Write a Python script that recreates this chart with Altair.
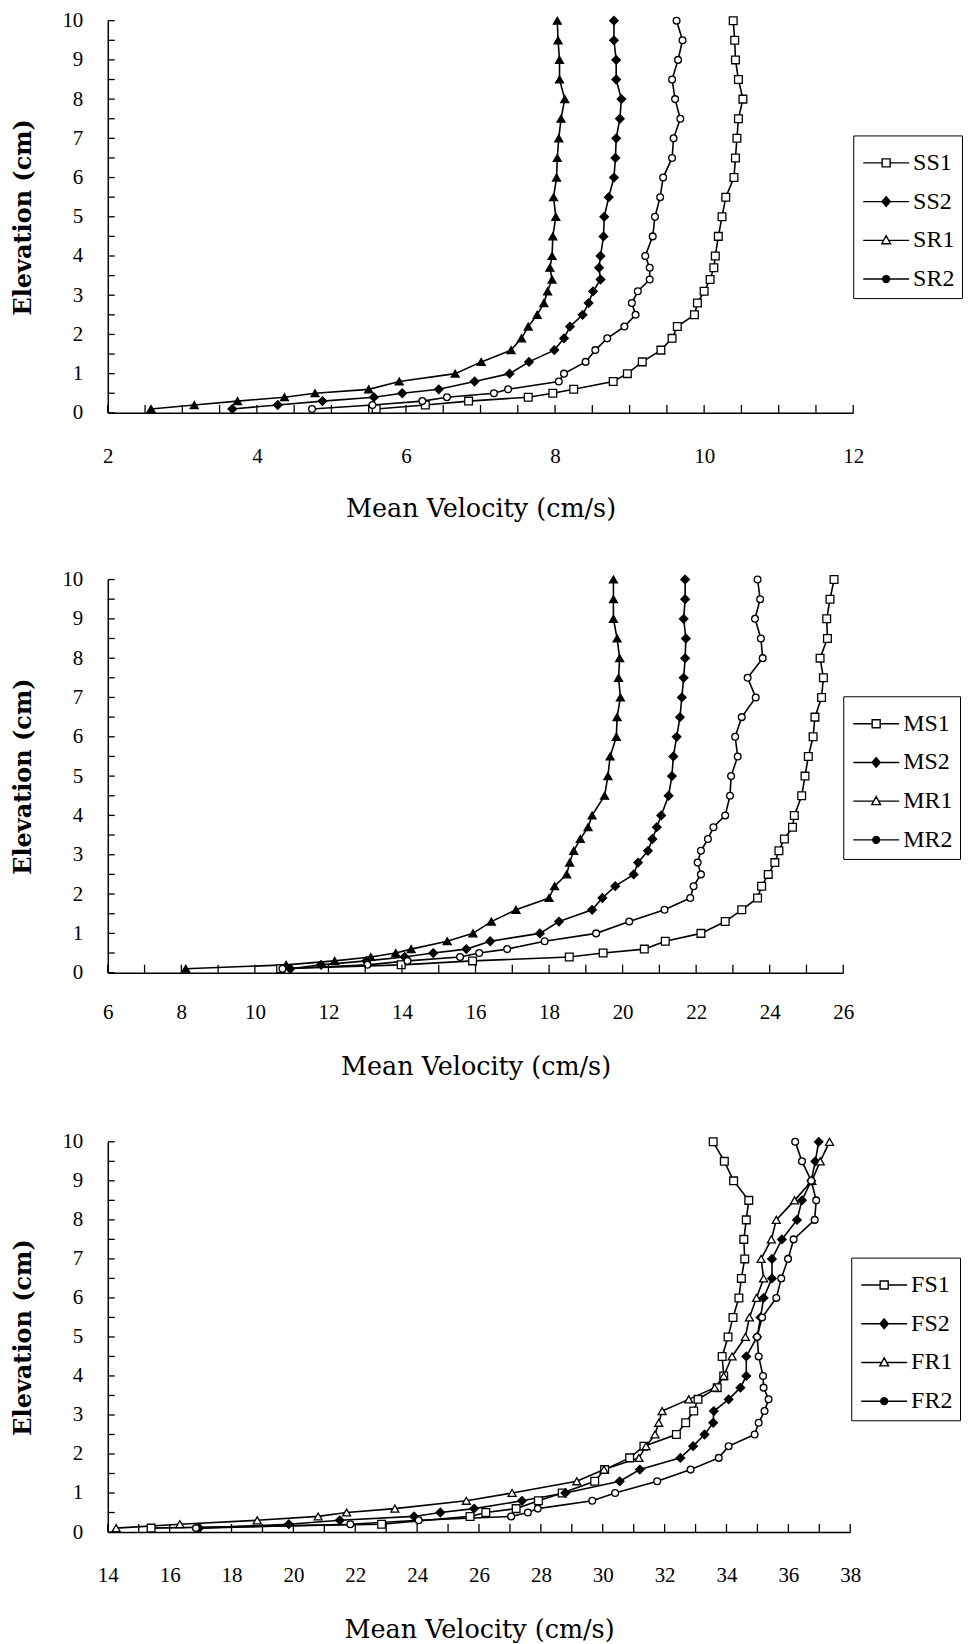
import altair as alt
import pandas as pd

# Elevation grid (cm) shared by all profiles
ELEV = [0.1, 0.2, 0.3, 0.4, 0.5, 0.6, 0.8, 1.0, 1.3, 1.6, 1.9, 2.2, 2.5, 2.8, 3.1,
        3.4, 3.7, 4.0, 4.5, 5.0, 5.5, 6.0, 6.5, 7.0, 7.5, 8.0, 8.5, 9.0, 9.5, 10.0]

# Panel 1 (slow flow)
SS1 = [5.6, 6.26, 6.84, 7.64, 7.97, 8.25, 8.78, 8.97, 9.17, 9.42, 9.57, 9.64, 9.87, 9.91, 10.0,
       10.08, 10.13, 10.15, 10.19, 10.24, 10.29, 10.40, 10.42, 10.44, 10.46, 10.52, 10.46, 10.42, 10.41, 10.39]
SS2 = [3.67, 4.28, 4.88, 5.57, 5.95, 6.44, 6.92, 7.39, 7.65, 7.99, 8.12, 8.20, 8.37, 8.45, 8.51,
       8.61, 8.59, 8.61, 8.65, 8.66, 8.72, 8.79, 8.81, 8.82, 8.87, 8.89, 8.82, 8.82, 8.79, 8.79]
SR1 = [2.58, 3.16, 3.74, 4.37, 4.78, 5.50, 5.91, 6.66, 7.01, 7.41, 7.55, 7.64, 7.76, 7.85, 7.90,
       7.96, 7.93, 7.96, 7.97, 8.01, 7.98, 8.02, 8.03, 8.05, 8.08, 8.13, 8.06, 8.06, 8.04, 8.03]
SR2 = [4.74, 5.55, 6.22, 6.55, 7.18, 7.37, 8.05, 8.12, 8.41, 8.54, 8.70, 8.93, 9.08, 9.03, 9.11,
       9.27, 9.27, 9.21, 9.31, 9.34, 9.41, 9.45, 9.57, 9.59, 9.68, 9.61, 9.57, 9.65, 9.71, 9.63]

# Panel 2 (medium flow)
MS1 = [10.7, 13.98, 15.92, 18.55, 19.47, 20.59, 21.16, 22.13, 22.79, 23.24, 23.67, 23.78, 23.96, 24.14, 24.25,
       24.40, 24.62, 24.67, 24.87, 24.96, 25.05, 25.18, 25.23, 25.41, 25.46, 25.37, 25.57, 25.55, 25.64, 25.75]
MS2 = [10.96, 11.8, 13.03, 14.07, 14.85, 15.75, 16.40, 17.75, 18.27, 19.17, 19.45, 19.80, 20.30, 20.42, 20.69,
       20.81, 20.93, 21.05, 21.25, 21.34, 21.38, 21.47, 21.56, 21.61, 21.66, 21.70, 21.72, 21.66, 21.70, 21.70]
MR1 = [8.12, 10.85, 12.17, 13.15, 13.83, 14.25, 15.23, 15.93, 16.43, 17.10, 18.0, 18.15, 18.48, 18.56, 18.67,
       18.85, 19.06, 19.17, 19.51, 19.60, 19.66, 19.83, 19.85, 19.94, 19.89, 19.92, 19.85, 19.75, 19.75, 19.75]
MR2 = [10.75, 13.06, 14.15, 15.58, 16.10, 16.86, 17.88, 19.28, 20.18, 21.14, 21.84, 21.93, 22.13, 22.04, 22.13,
       22.32, 22.47, 22.79, 22.92, 22.95, 23.13, 23.06, 23.24, 23.62, 23.40, 23.81, 23.76, 23.60, 23.74, 23.67]

# Panel 3 (fast flow)
FS1 = [15.4, 22.85, None, 25.71, 26.22, 27.20, 27.92, 28.69, 29.74, 30.06, 30.87, 31.33, 32.38, 32.68, 32.94,
       33.08, 33.70, 33.91, 33.86, 34.05, 34.21, 34.40, 34.48, 34.59, 34.56, 34.64, 34.72, 34.23, 33.93, 33.57]
FS2 = [16.95, 19.85, 21.5, 23.9, 24.75, 25.84, 27.39, 28.79, 30.55, 31.2, 32.51, 32.92, 33.29, 33.57, 33.59,
       34.07, 34.45, 34.64, 34.64, 34.99, 35.10, 35.20, 35.47, 35.47, 35.79, 36.28, 36.44, 36.74, 36.87, 36.98]
FR1 = [14.27, 16.33, 18.83, 20.8, 21.72, 23.28, 25.59, 27.07, 29.16, 30.04, 31.17, 31.40, 31.69, 31.81, 31.92,
       32.78, 33.62, 33.91, 34.18, 34.61, 34.74, 34.97, 35.20, 35.12, 35.45, 35.61, 36.20, 36.76, 37.03, 37.33]
FR2 = [16.85, 21.84, 24.05, 27.04, 27.58, 27.9, 29.66, 30.40, 31.76, 32.84, 33.75, 34.07, 34.91, 35.04, 35.23,
       35.36, 35.20, 35.18, 35.04, 34.99, 35.15, 35.61, 35.77, 35.99, 36.17, 36.85, 36.90, 36.74, 36.44, 36.22]

Y_LABELS = list(range(0, 11))
Y_TICKS = [i * 0.5 for i in range(0, 21)]

SERIF = "Liberation Serif"
TITLE_FONT = "DejaVu Serif"

# marker styles on the plot (order: S1, S2, R1, R2)
MARK_SHAPES = ["square", "diamond", "triangle-up", "circle"]
MARK_SIZES = [60, 72, 64, 46]
# legend glyphs: line with a marker in the middle
LEG_PATHS = [
    "M-2,0H-0.35M0.35,0H2M-0.35,-0.35H0.35V0.35H-0.35Z",
    "M-2,0H2M0,-0.42L0.36,0L0,0.42L-0.36,0Z",
    "M-2,0H-0.22M0.22,0H2M0,-0.4L0.38,0.3L-0.38,0.3Z",
    "M-2,0H2M0.3,0A0.3,0.3,0,1,1,-0.3,0A0.3,0.3,0,1,1,0.3,0Z",
]
LEG_FILLS = ["white", "black", "white", "black"]


def panel(names, series, xdom, xlabels, xticks, width, height, mark_fills,
          legend_x, legend_y, label_pad, title_pad):
    rows = []
    for name, vals in zip(names, series):
        for i, (e, v) in enumerate(zip(ELEV, vals)):
            if v is None:
                continue
            rows.append({"series": name, "v": v, "elev": e, "idx": i})
    df = pd.DataFrame(rows)

    xscale = alt.Scale(domain=xdom, nice=False, zero=False)
    yscale = alt.Scale(domain=[0, 10], nice=False, zero=True)

    xaxis = alt.Axis(values=xlabels, title="Mean Velocity (cm/s)", ticks=False, tickSize=0,
                     labelPadding=label_pad, titlePadding=title_pad, labelFlush=False,
                     labelOverlap=False, grid=False, domainColor="black", domainWidth=1.5,
                     labelFont=SERIF, labelFontSize=21, labelColor="black",
                     titleFont=TITLE_FONT, titleFontSize=25.5, titleFontWeight="normal",
                     titleColor="black")
    yaxis = alt.Axis(values=Y_LABELS, title="Elevation (cm)", ticks=False, tickSize=0,
                     labelPadding=25, titlePadding=26, labelFlush=False, labelOverlap=False,
                     grid=False, domainColor="black", domainWidth=1.5,
                     labelFont=SERIF, labelFontSize=21, labelColor="black",
                     titleFont=TITLE_FONT, titleFontSize=24, titleFontWeight="bold",
                     titleColor="black")

    X = alt.X("v:Q", scale=xscale, axis=xaxis)
    Y = alt.Y("elev:Q", scale=yscale, axis=yaxis)

    base = alt.Chart(df)
    layers = [base.mark_line(color="black", strokeWidth=1.6).encode(
        x=X, y=Y, detail="series:N", order="idx:Q")]

    for name, shp, sz, fc in zip(names, MARK_SHAPES, MARK_SIZES, mark_fills):
        layers.append(
            base.transform_filter(alt.datum.series == name)
            .mark_point(shape=shp, size=sz, filled=True, fill=fc, stroke="black",
                        strokeWidth=1.3, opacity=1)
            .encode(x=X, y=Y)
        )

    leg = alt.Legend(title=" ", titleFontSize=8, titlePadding=0,
                     orient="none", legendX=legend_x, legendY=legend_y,
                     padding=7, rowPadding=13.8, symbolSize=529, symbolOffset=13.5,
                     labelOffset=14.5, symbolStrokeWidth=1.4,
                     labelFont=SERIF, labelFontSize=24, labelColor="black",
                     strokeColor="black", fillColor="white", cornerRadius=0)
    layers.append(
        base.transform_filter("false").mark_point(
            filled=True, stroke="black", strokeWidth=1.4, opacity=1, size=529).encode(
            shape=alt.Shape("series:N", scale=alt.Scale(domain=names, range=LEG_PATHS), legend=leg),
            fill=alt.Fill("series:N", scale=alt.Scale(domain=names, range=LEG_FILLS), legend=leg),
        )
    )

    xt = pd.DataFrame({"t": xticks})
    yt = pd.DataFrame({"t": Y_TICKS})
    layers.append(alt.Chart(xt).mark_rule(color="black", strokeWidth=1.3).encode(
        x=alt.X("t:Q", scale=xscale, axis=xaxis),
        y=alt.value(height), y2=alt.value(height - 8),
    ))
    layers.append(alt.Chart(yt).mark_rule(color="black", strokeWidth=1.3).encode(
        y=alt.Y("t:Q", scale=yscale, axis=yaxis),
        x=alt.value(0), x2=alt.value(7),
    ))

    return alt.layer(*layers).properties(width=width, height=height)


p1 = panel(["SS1", "SS2", "SR1", "SR2"], [SS1, SS2, SR1, SR2], [2, 12],
           [2, 4, 6, 8, 10, 12], [2 + 0.5 * i for i in range(21)], 747, 393,
           ["white", "black", "black", "white"], 747, 115, 33, 30)
p2 = panel(["MS1", "MS2", "MR1", "MR2"], [MS1, MS2, MR1, MR2], [6, 26],
           list(range(6, 27, 2)), list(range(6, 27)), 737, 394,
           ["white", "black", "black", "white"], 737, 117, 29, 32.5)
p3 = panel(["FS1", "FS2", "FR1", "FR2"], [FS1, FS2, FR1, FR2], [14, 38],
           list(range(14, 39, 2)), list(range(14, 39)), 744, 391,
           ["white", "black", "white", "white"], 745, 116, 33, 31.5)

top_two = alt.vconcat(p1, p2, spacing=46).resolve_scale(
    shape="independent", fill="independent"
).resolve_legend(shape="independent", fill="independent")

chart = alt.vconcat(top_two, p3, spacing=50.5).resolve_scale(
    shape="independent", fill="independent"
).resolve_legend(
    shape="independent", fill="independent"
).properties(
    padding={"left": 4, "top": 0, "right": 0, "bottom": 0},
    background="white",
).configure_view(stroke=None)

chart.save("out.html", embed_options={"renderer": "svg", "actions": False})
